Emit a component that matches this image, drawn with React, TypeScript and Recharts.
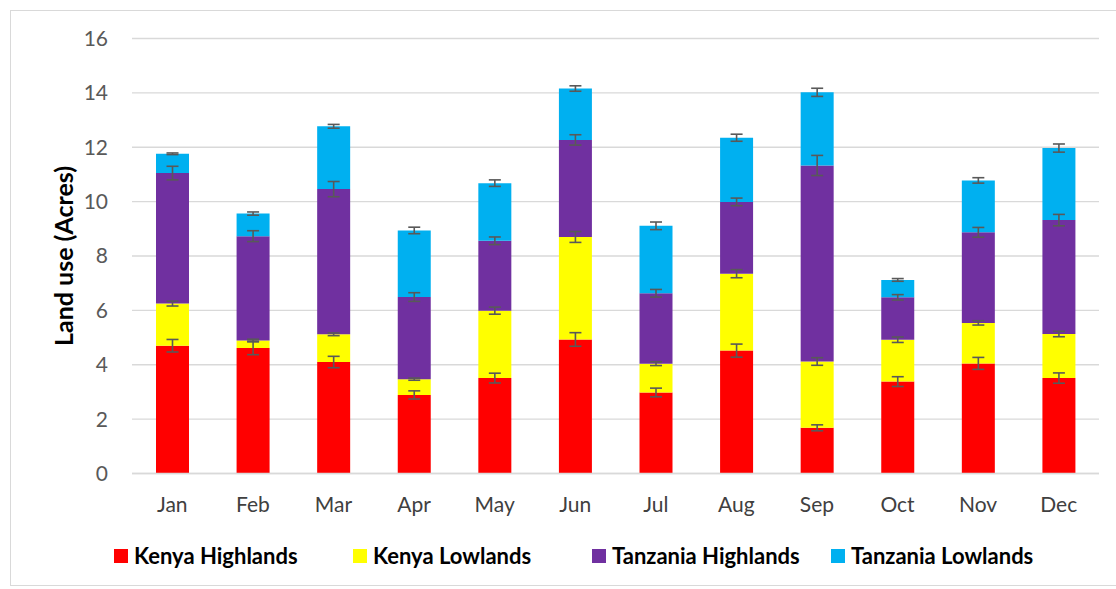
import { BarChart, Bar, XAxis, YAxis, CartesianGrid, ErrorBar, Legend } from 'recharts';

const months = ['Jan', 'Feb', 'Mar', 'Apr', 'May', 'Jun', 'Jul', 'Aug', 'Sep', 'Oct', 'Nov', 'Dec'];

const kenyaHighlands = [4.70, 4.62, 4.10, 2.89, 3.51, 4.93, 2.98, 4.52, 1.68, 3.38, 4.05, 3.51];
const kenyaLowlands = [1.55, 0.27, 1.02, 0.58, 2.48, 3.77, 1.06, 2.83, 2.44, 1.54, 1.49, 1.62];
const tanzaniaHighlands = [4.80, 3.84, 5.34, 3.02, 2.57, 3.57, 2.59, 2.64, 7.21, 1.56, 3.33, 4.19];
const tanzaniaLowlands = [0.71, 0.83, 2.31, 2.45, 2.12, 1.89, 2.48, 2.36, 2.69, 0.64, 1.91, 2.65];

const khErr = [0.23, 0.25, 0.21, 0.15, 0.18, 0.25, 0.16, 0.24, 0.11, 0.18, 0.22, 0.19];
const klErr = [0.09, 0.05, 0.05, 0.04, 0.13, 0.2, 0.07, 0.15, 0.14, 0.1, 0.08, 0.1];
const thErr = [0.25, 0.2, 0.28, 0.16, 0.14, 0.19, 0.14, 0.14, 0.37, 0.1, 0.18, 0.21];
const tlErr = [0.03, 0.06, 0.07, 0.12, 0.12, 0.1, 0.14, 0.13, 0.15, 0.05, 0.1, 0.15];

const yTicks = [0, 2, 4, 6, 8, 10, 12, 14, 16];

const series = [
  { key: 'kh', err: 'khErr', name: 'Kenya Highlands', color: '#FF0000' },
  { key: 'kl', err: 'klErr', name: 'Kenya Lowlands', color: '#FFFF00' },
  { key: 'th', err: 'thErr', name: 'Tanzania Highlands', color: '#7030A0' },
  { key: 'tl', err: 'tlErr', name: 'Tanzania Lowlands', color: '#00B0F0' },
];

const data = months.map((m, i) => ({
  month: m,
  kh: kenyaHighlands[i],
  kl: kenyaLowlands[i],
  th: tanzaniaHighlands[i],
  tl: tanzaniaLowlands[i],
  khErr: khErr[i],
  klErr: klErr[i],
  thErr: thErr[i],
  tlErr: tlErr[i],
}));

const FONT = 'Lato, "Noto Sans", sans-serif';

function LegendRow() {
  return (
    <div style={{ display: 'flex', fontFamily: FONT, fontWeight: 700, fontSize: 22, color: '#000' }}>
      {series.map((s) => (
        <div key={s.key} style={{ width: 239, display: 'flex', alignItems: 'center' }}>
          <span style={{ width: 14, height: 14, background: s.color, marginRight: 6, display: 'inline-block' }} />
          {s.name}
        </div>
      ))}
    </div>
  );
}

export default function App() {
  return (
    <div style={{ position: 'absolute', left: 10, top: 10, width: 1120, height: 574, border: '1px solid #d9d9d9', background: '#fff' }}>
      <BarChart
        width={1105}
        height={574}
        data={data}
        margin={{ top: 27.5, right: 17, left: 61, bottom: 44.5 }}
        barSize={33}
      >
        <CartesianGrid vertical={false} stroke="#d9d9d9" strokeWidth={1.3} />
        <XAxis
          dataKey="month"
          axisLine={{ stroke: '#d9d9d9', strokeWidth: 1.3 }}
          tickLine={false}
          tickSize={0}
          tickMargin={24}
          height={40}
          tick={{ fill: '#404040', fontSize: 21, fontFamily: FONT }}
        />
        <YAxis
          domain={[0, 16]}
          ticks={yTicks}
          width={60}
          axisLine={false}
          tickLine={false}
          tickSize={0}
          tickMargin={24}
          tick={{ fill: '#595959', fontSize: 21, fontFamily: FONT }}
          label={{
            value: 'Land use (Acres)',
            angle: -90,
            position: 'insideLeft',
            dx: -13,
            dy: 90,
            style: { fontFamily: FONT, fontWeight: 700, fontSize: 25, fill: '#000' },
          }}
        />
        <Legend
          content={() => <LegendRow />}
          wrapperStyle={{ top: 531, left: 103, width: 1000 }}
        />
        {series.map((s) => (
          <Bar key={s.key} dataKey={s.key} name={s.name} stackId="a" fill={s.color} isAnimationActive={false}>
            <ErrorBar dataKey={s.err} width={6} stroke="#595959" strokeWidth={1.6} direction="y" />
          </Bar>
        ))}
      </BarChart>
    </div>
  );
}
